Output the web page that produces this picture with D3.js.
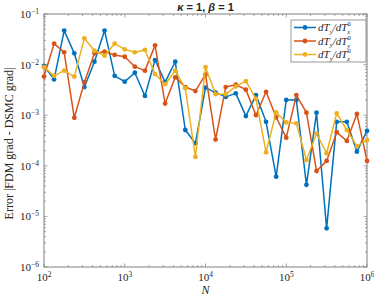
<!DOCTYPE html>
<html>
<head>
<meta charset="utf-8">
<script src="https://cdn.jsdelivr.net/npm/d3@7"></script>
<style>
  body { margin: 0; background: #fff; }
  text { fill: #262626; }
</style>
</head>
<body>
<div class="chart"></div>
<script>
// exponents of N (N = 10^k/8 steps from 10^2 to 10^6)
var nExp = d3.range(0, 33).map(function(k) { return 2 + k / 8; });

var errX = [9.4e-3, 5.1e-3, 4.7e-2, 1.67e-2, 3.6e-3, 1.14e-2, 4.7e-2, 6.0e-3, 4.6e-3, 6.9e-3,
  2.4e-3, 1.23e-2, 4.5e-3, 1.14e-2, 5.1e-4, 2.8e-4, 3.5e-3, 2.8e-3, 2.3e-3, 2.7e-3,
  9.6e-4, 2.5e-3, 7.4e-4, 6.1e-5, 2.0e-3, 2.0e-3, 4.2e-5, 1.12e-3, 5.8e-6, 7.4e-4,
  7.4e-4, 1.9e-4, 4.9e-4];
var errY = [5.8e-3, 2.6e-2, 1.75e-2, 8.9e-4, 4.5e-3, 1.67e-2, 1.8e-2, 1.55e-2, 1.43e-2, 9.1e-3,
  7.6e-3, 2.4e-2, 1.7e-3, 5.6e-3, 3.6e-3, 3.0e-3, 6.4e-3, 3.3e-4, 3.6e-3, 4.0e-3,
  3.2e-3, 1.0e-3, 2.9e-3, 9.1e-4, 3.6e-4, 2.5e-3, 1.12e-3, 7.9e-5, 1.25e-4, 4.6e-4,
  3.1e-4, 1.06e-3, 1.25e-4];
var errZ = [8.9e-3, 6.0e-3, 7.6e-3, 5.8e-3, 3.3e-2, 1.88e-2, 1.5e-2, 2.6e-2, 2.0e-2, 1.75e-2,
  1.95e-2, 6.5e-3, 4.1e-3, 7.6e-3, 3.4e-3, 1.5e-4, 8.9e-3, 2.6e-3, 2.6e-3, 3.7e-3,
  4.7e-3, 2.1e-3, 1.85e-4, 1.14e-3, 7.2e-4, 6.9e-4, 1.3e-4, 4.3e-4, 1.77e-4, 1.09e-3,
  5.1e-4, 2.45e-4, 3.2e-4];

var seriesNames = ["x", "y", "z"];
var seriesColors = ["#0072BD", "#D95319", "#EDB120"];
var xTickExp = [2, 3, 4, 5, 6];
var yTickExp = [-6, -5, -4, -3, -2, -1];

var svgWidth = 374, svgHeight = 298;
var margin = { top: 14, right: 7, bottom: 31, left: 44 };
var width = svgWidth - margin.left - margin.right;
var height = svgHeight - margin.top - margin.bottom;

var svg = d3.select(".chart").append("svg")
  .attr("width", svgWidth)
  .attr("height", svgHeight);

var chartGroup = svg.append("g")
  .attr("transform", `translate(${margin.left}, ${margin.top})`);

var xScale = d3.scaleLog().domain([1e2, 1e6]).range([0, width]);
var yScale = d3.scaleLog().domain([1e-6, 1e-1]).range([height, 0]);

var serif = "'Liberation Serif', 'DejaVu Serif', serif";
var axisColor = "#808080";

// major and minor tick values
var xMinor = [], yMinor = [];
xTickExp.slice(0, -1).forEach(function(e) {
  for (var m = 2; m <= 9; m++) xMinor.push(m * Math.pow(10, e));
});
yTickExp.slice(0, -1).forEach(function(e) {
  for (var m = 2; m <= 9; m++) yMinor.push(m * Math.pow(10, e));
});

var ticks = chartGroup.append("g")
  .attr("stroke", axisColor)
  .attr("stroke-width", 0.7);

function addXTicks(vals, len) {
  vals.forEach(function(v) {
    var x = xScale(v);
    ticks.append("line").attr("x1", x).attr("x2", x).attr("y1", height).attr("y2", height - len);
    ticks.append("line").attr("x1", x).attr("x2", x).attr("y1", 0).attr("y2", len);
  });
}
function addYTicks(vals, len) {
  vals.forEach(function(v) {
    var y = yScale(v);
    ticks.append("line").attr("x1", 0).attr("x2", len).attr("y1", y).attr("y2", y);
    ticks.append("line").attr("x1", width).attr("x2", width - len).attr("y1", y).attr("y2", y);
  });
}
addXTicks(xTickExp.map(function(e) { return Math.pow(10, e); }), 3.5);
addXTicks(xMinor, 2);
addYTicks(yTickExp.map(function(e) { return Math.pow(10, e); }), 3.5);
addYTicks(yMinor, 2);

// box
chartGroup.append("rect")
  .attr("width", width)
  .attr("height", height)
  .attr("fill", "none")
  .attr("stroke", axisColor)
  .attr("stroke-width", 1);

// tick labels
xTickExp.forEach(function(e) {
  var t = chartGroup.append("text")
    .attr("x", xScale(Math.pow(10, e)))
    .attr("y", height + 14)
    .attr("text-anchor", "middle")
    .style("font-family", serif)
    .style("font-size", "11px");
  t.append("tspan").text("10");
  t.append("tspan").attr("dy", -4).style("font-size", "7.5px").text(e);
});
yTickExp.forEach(function(e) {
  var t = chartGroup.append("text")
    .attr("x", -5)
    .attr("y", yScale(Math.pow(10, e)) + 4)
    .attr("text-anchor", "end")
    .style("font-family", serif)
    .style("font-size", "11px");
  t.append("tspan").text("10");
  t.append("tspan").attr("dy", -4).style("font-size", "7.5px").text("\u2212" + (-e));
});

// lines and markers
var allSeries = [errX, errY, errZ];
allSeries.forEach(function(vals, i) {
  var pts = vals.map(function(v, k) { return { n: Math.pow(10, nExp[k]), v: v }; });
  var line = d3.line()
    .x(d => xScale(d.n))
    .y(d => yScale(d.v));
  chartGroup.append("path")
    .datum(pts)
    .attr("d", line)
    .attr("fill", "none")
    .attr("stroke", seriesColors[i])
    .attr("stroke-width", 1.5)
    .attr("stroke-linejoin", "round");
  chartGroup.selectAll(".dot" + i)
    .data(pts)
    .enter()
    .append("circle")
    .attr("class", "dot" + i)
    .attr("cx", d => xScale(d.n))
    .attr("cy", d => yScale(d.v))
    .attr("r", 2.4)
    .attr("fill", seriesColors[i]);
});

// title
var title = svg.append("text")
  .attr("x", margin.left + width / 2)
  .attr("y", 11)
  .attr("text-anchor", "middle")
  .style("font-family", "'Liberation Sans', Arial, sans-serif")
  .style("font-size", "11px")
  .style("font-weight", "bold");
title.append("tspan").style("font-style", "italic").text("\u03BA");
title.append("tspan").text(" = 1, ");
title.append("tspan").style("font-style", "italic").text("\u03B2");
title.append("tspan").text(" = 1");

// axis labels
svg.append("text")
  .attr("x", margin.left + width / 2)
  .attr("y", 294)
  .attr("text-anchor", "middle")
  .style("font-family", serif)
  .style("font-size", "12px")
  .style("font-style", "italic")
  .text("N");

svg.append("text")
  .attr("transform", "rotate(-90)")
  .attr("x", -(margin.top + height / 2 + 3))
  .attr("y", 13)
  .attr("text-anchor", "middle")
  .style("font-family", serif)
  .style("font-size", "12px")
  .text("Error |FDM grad - DSMC grad|");

// legend
var legend = svg.append("g").attr("transform", "translate(291, 20)");
legend.append("rect")
  .attr("width", 75)
  .attr("height", 42)
  .attr("fill", "#fff")
  .attr("stroke", axisColor)
  .attr("stroke-width", 0.8);
seriesNames.forEach(function(s, i) {
  var y = 7.5 + i * 13.5;
  legend.append("line")
    .attr("x1", 3).attr("x2", 25).attr("y1", y).attr("y2", y)
    .attr("stroke", seriesColors[i]).attr("stroke-width", 1.5);
  legend.append("circle")
    .attr("cx", 14).attr("cy", y).attr("r", 2.4)
    .attr("fill", seriesColors[i]);
  var t = legend.append("text")
    .attr("x", 27)
    .attr("y", y + 3.5)
    .style("font-family", serif)
    .style("font-size", "11px")
    .style("font-style", "italic");
  t.append("tspan").text("dT");
  t.append("tspan").attr("dy", 2.5).style("font-size", "7px").text("y");
  t.append("tspan").attr("dy", -2.5).text("/dT");
  t.append("tspan").attr("dy", -5).style("font-size", "6.5px").style("font-style", "normal").text("0");
  t.append("tspan").attr("dx", -3.5).attr("dy", 8).style("font-size", "6.5px").text(s);
});
</script>
</body>
</html>
